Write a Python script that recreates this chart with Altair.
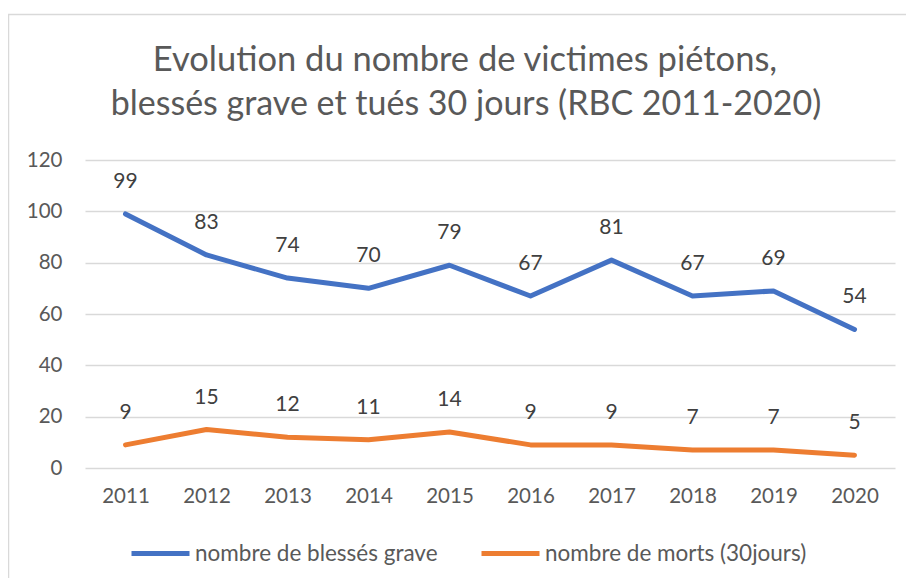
import altair as alt
import pandas as pd

years = ["2011", "2012", "2013", "2014", "2015", "2016", "2017", "2018", "2019", "2020"]
blesses = [99, 83, 74, 70, 79, 67, 81, 67, 69, 54]
morts = [9, 15, 12, 11, 14, 9, 9, 7, 7, 5]
series_names = ["nombre de blessés grave", "nombre de morts (30jours)"]
series_colors = ["#4472C4", "#ED7D31"]
y_ticks = [0, 20, 40, 60, 80, 100, 120]
title_lines = ["Evolution du nombre de victimes piétons,", "blessés grave et tués 30 jours (RBC 2011-2020)"]

rows = []
for y, b, m in zip(years, blesses, morts):
    rows.append({"year": y, "serie": series_names[0], "value": b})
    rows.append({"year": y, "serie": series_names[1], "value": m})
df = pd.DataFrame(rows)

FONT = "Lato"
TXT = "#595959"

x = alt.X("year:O", title=None,
          axis=alt.Axis(labelAngle=0, labelFont=FONT, labelFontSize=20.5, labelColor=TXT,
                        ticks=False, domain=False, labelPadding=18))
yenc = alt.Y("value:Q", title=None,
             scale=alt.Scale(domain=[0, 120], nice=False),
             axis=alt.Axis(values=y_ticks, labelFont=FONT, labelFontSize=20.5, labelColor=TXT,
                           ticks=False, domain=False, labelPadding=23,
                           grid=True, gridColor="#d9d9d9", gridWidth=1.5))
color = alt.Color("serie:N", title=None,
                  scale=alt.Scale(domain=series_names, range=series_colors),
                  legend=alt.Legend(orient="none", legendX=44, legendY=362, direction="horizontal",
                                    symbolType="stroke", symbolSize=3364, symbolStrokeWidth=5,
                                    labelFont=FONT, labelFontSize=22.5, labelColor=TXT, labelLimit=400,
                                    labelOffset=3, columnPadding=33, symbolOffset=0))

base = alt.Chart(df)

lines = base.mark_line(strokeWidth=5, strokeCap="round", strokeJoin="round").encode(
    x=x, y=yenc, color=color)

labels = base.mark_text(dy=-32, font=FONT, fontSize=21, color="#404040").encode(
    x=x, y=yenc, text="value:Q", detail="serie:N")

border = alt.Chart(pd.DataFrame({"a": [0]})).mark_rect(
    fill=None, stroke="#d9d9d9", strokeWidth=1.5).encode(
    x=alt.value(-76.5), y=alt.value(-145.5), x2=alt.value(900), y2=alt.value(600))

tdf = pd.DataFrame({"line": [0, 1], "text": title_lines})
title1 = alt.Chart(tdf).transform_filter("datum.line == 0").mark_text(
    font=FONT, fontSize=34.5, color=TXT, align="center", baseline="alphabetic").encode(
    text="text:N", x=alt.value(380), y=alt.value(-89))
title2 = alt.Chart(tdf).transform_filter("datum.line == 1").mark_text(
    font=FONT, fontSize=34, color=TXT, align="center", baseline="alphabetic").encode(
    text="text:N", x=alt.value(381), y=alt.value(-45))

chart = alt.layer(border, title1, title2, lines, labels).properties(
    width=810, height=308,
    autosize=alt.AutoSizeParams(type="none"),
    padding={"left": 77, "top": 152, "right": 11, "bottom": 110},
).configure_view(stroke=None)

chart.save("out.html", embed_options={"renderer": "svg", "actions": False})
